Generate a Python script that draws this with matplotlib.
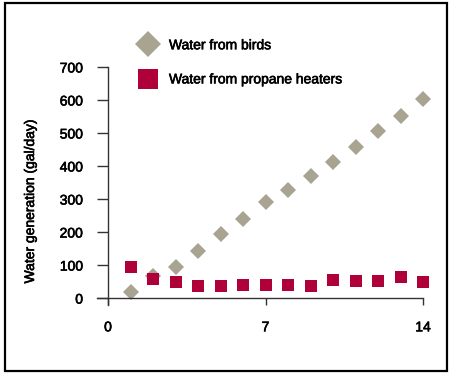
import matplotlib
matplotlib.use('Agg')
import matplotlib.pyplot as plt
import matplotlib.patheffects as pe
from matplotlib.lines import Line2D
from matplotlib.patches import Rectangle

plt.rcParams['font.family'] = ['Liberation Sans', 'DejaVu Sans']

# DATA
days = [1, 2, 3, 4, 5, 6, 7, 8, 9, 10, 11, 12, 13, 14]
birds = [18, 67, 95, 143, 193, 240, 292, 326, 370, 411, 458, 506, 552, 603]
propane = [94, 57, 48, 36, 38, 41, 40, 40, 38, 55, 51, 53, 64, 50]
x_ticks = [0, 7, 14]
y_ticks = [0, 100, 200, 300, 400, 500, 600, 700]

BIRD_COLOR = '#a9a491'
PROPANE_COLOR = '#b0003a'
FS = 10
# slight stroke so the text looks as heavy as the reference
HEAVY = [pe.withStroke(linewidth=0.45, foreground='black')]

fig = plt.figure(figsize=(4.5, 3.74), dpi=100)
ax = fig.add_axes([0.24, 0.203, 0.70, 0.618])

ax.plot(days, birds, linestyle='none', marker='D', markersize=8.2,
	color=BIRD_COLOR, markeredgewidth=0, clip_on=False)
ax.plot(days, propane, linestyle='none', marker='s', markersize=8.8,
	color=PROPANE_COLOR, markeredgewidth=0, clip_on=False)

ax.set_xlim(0, 14)
ax.set_ylim(0, 700)
ax.set_xticks(x_ticks)
ax.set_yticks(y_ticks)

# spines drawn by hand so they cross past the origin
for s in ax.spines.values():
	s.set_visible(False)
ax.plot([0, 0], [-0.03, 1], transform=ax.transAxes, color='#333333',
	linewidth=1.0, clip_on=False)
ax.plot([-0.035, 1], [0, 0], transform=ax.transAxes, color='#333333',
	linewidth=1.0, clip_on=False)

ax.tick_params(axis='y', direction='out', length=8, width=1.0,
	color='#333333', pad=10, labelsize=FS)
ax.tick_params(axis='x', direction='out', length=5, width=1.0,
	color='#333333', pad=11, labelsize=FS)
for lbl in ax.get_xticklabels() + ax.get_yticklabels():
	lbl.set_path_effects(HEAVY)

fig.text(30 / 450, 0.4626, 'Water generation (gal/day)', rotation=90,
	ha='center', va='center', fontsize=FS, path_effects=HEAVY)

# legend
handles = [
	Line2D([], [], linestyle='none', marker='D', markersize=13.7,
		color=BIRD_COLOR, markeredgewidth=0),
	Line2D([], [], linestyle='none', marker='s', markersize=14.4,
		color=PROPANE_COLOR, markeredgewidth=0),
]
leg = ax.legend(handles, ['Water from birds', 'Water from propane heaters'],
	loc='center left', bbox_to_anchor=(0.079, 1.02), frameon=False,
	fontsize=FS, handletextpad=0.8, labelspacing=1.45,
	handlelength=1.4, borderaxespad=0)
for t in leg.get_texts():
	t.set_path_effects(HEAVY)

# outer frame
fig.patches.append(Rectangle((5 / 450, 3 / 374), 442 / 450, 368 / 374,
	transform=fig.transFigure, fill=False, edgecolor='black',
	linewidth=1.6))

fig.savefig('out.png', dpi=100)
